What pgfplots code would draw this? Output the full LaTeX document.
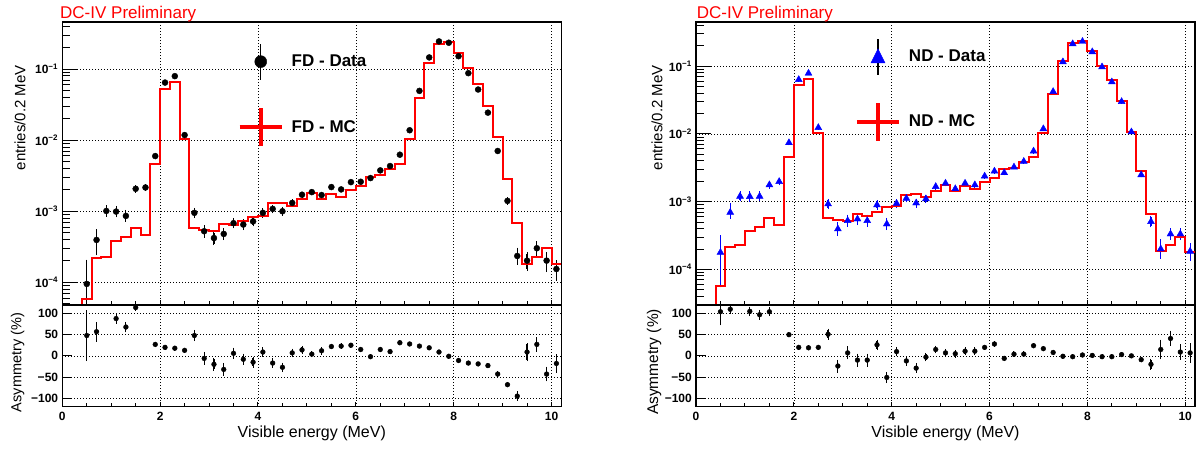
\documentclass[border=0pt]{standalone}
\usepackage{fontspec}
\setmainfont{Liberation Sans}
\usepackage{pgfplots}
\usepackage{pgfplotstable}
\pgfplotsset{compat=1.18}

\definecolor{mcred}{RGB}{255,0,0}
\definecolor{ndblue}{RGB}{0,0,255}

% MC histograms: left bin edge, content
\pgfplotstableread{
x y
0.0 4.8e-5
0.4 5.8e-5
0.6 2.18e-4
0.8 2.3e-4
1.0 3.79e-4
1.2 4.31e-4
1.4 5.78e-4
1.6 4.67e-4
1.8 4.57e-3
2.0 0.0533
2.2 0.0662
2.4 0.0103
2.6 5.8e-4
2.8 5.5e-4
3.0 5.2e-4
3.2 6.65e-4
3.4 6.4e-4
3.6 7.25e-4
3.8 8.25e-4
4.0 8.7e-4
4.2 1.31e-3
4.4 1.32e-3
4.6 1.2e-3
4.8 1.48e-3
5.0 1.82e-3
5.2 1.51e-3
5.4 1.74e-3
5.6 1.6e-3
5.8 2.0e-3
6.0 2.26e-3
6.2 3.03e-3
6.4 3.27e-3
6.6 3.97e-3
6.8 4.57e-3
7.0 0.0105
7.2 0.0394
7.4 0.123
7.6 0.227
7.8 0.238
8.0 0.170
8.2 0.104
8.4 0.0627
8.6 0.0307
8.8 0.0111
9.0 2.8e-3
9.2 6.8e-4
9.4 1.83e-4
9.6 2.3e-4
9.8 3.08e-4
10.0 1.83e-4
10.2 1.83e-4
}\fdmc

\pgfplotstableread{
x y
0.0 2.98e-5
0.4 5.7e-5
0.6 2.16e-4
0.8 2.29e-4
1.0 3.73e-4
1.2 4.28e-4
1.4 5.66e-4
1.6 4.57e-4
1.8 4.55e-3
2.0 0.0522
2.2 0.0656
2.4 0.0103
2.6 5.68e-4
2.8 5.37e-4
3.0 5.13e-4
3.2 6.58e-4
3.4 6.21e-4
3.6 7.11e-4
3.8 8.24e-4
4.0 8.53e-4
4.2 1.27e-3
4.4 1.29e-3
4.6 1.16e-3
4.8 1.46e-3
5.0 1.79e-3
5.2 1.43e-3
5.4 1.73e-3
5.6 1.55e-3
5.8 1.98e-3
6.0 2.22e-3
6.2 2.99e-3
6.4 3.13e-3
6.6 3.84e-3
6.8 4.5e-3
7.0 0.0103
7.2 0.0385
7.4 0.119
7.6 0.221
7.8 0.234
8.0 0.167
8.2 0.102
8.4 0.0619
8.6 0.0306
8.8 0.0107
9.0 2.79e-3
9.2 6.6e-4
9.4 1.85e-4
9.6 2.26e-4
9.8 3.04e-4
10.0 1.79e-4
10.2 1.79e-4
}\ndmc

% data: bin centre, content, error up, error down
\pgfplotstableread{
x y ep em
0.5 9.5e-5 1.05e-4 9.4e-5
0.7 3.95e-4 1.4e-4 1.45e-4
0.9 1.01e-3 1.5e-4 1.3e-4
1.1 9.9e-4 1.5e-4 1.3e-4
1.3 8.6e-4 1.4e-4 1.2e-4
1.5 2.07e-3 1.5e-4 1.5e-4
1.7 2.16e-3 1.5e-4 1.5e-4
1.9 5.98e-3 3e-4 3e-4
2.1 0.0647 1e-3 1e-3
2.3 0.0796 1e-3 1e-3
2.5 0.0118 4e-4 4e-4
2.7 9.5e-4 1.2e-4 1.1e-4
2.9 5.24e-4 9e-5 8e-5
3.1 4.2e-4 8e-5 7e-5
3.3 4.8e-4 8e-5 7e-5
3.5 6.8e-4 9e-5 8e-5
3.7 6.5e-4 9e-5 8e-5
3.9 7.2e-4 9e-5 8e-5
4.1 9.5e-4 1e-4 1e-4
4.3 1.08e-3 1e-4 1e-4
4.5 1.0e-3 1e-4 1e-4
4.7 1.31e-3 1e-4 1e-4
4.9 1.71e-3 1e-4 1e-4
5.1 1.86e-3 1e-4 1e-4
5.3 1.69e-3 1e-4 1e-4
5.5 2.19e-3 1e-4 1e-4
5.7 2.03e-3 1e-4 1e-4
5.9 2.57e-3 1e-4 1e-4
6.1 2.6e-3 1e-4 1e-4
6.3 2.93e-3 1e-4 1e-4
6.5 3.76e-3 1e-4 1e-4
6.7 4.33e-3 1e-4 1e-4
6.9 6.25e-3 2e-4 2e-4
7.1 0.0138 3e-4 3e-4
7.3 0.0494 1e-3 1e-3
7.5 0.146 2e-3 2e-3
7.7 0.245 3e-3 3e-3
7.9 0.235 3e-3 3e-3
8.1 0.152 2e-3 2e-3
8.3 0.0877 1e-3 1e-3
8.5 0.0516 1e-3 1e-3
8.7 0.0244 5e-4 5e-4
8.9 7.05e-3 2e-4 2e-4
9.1 1.40e-3 1e-4 1e-4
9.3 2.35e-4 6e-5 5e-5
9.5 2.02e-4 5e-5 5e-5
9.7 3.02e-4 6e-5 6e-5
9.9 2.02e-4 5e-5 5.6e-5
10.1 1.54e-4 4.2e-5 4.3e-5
}\fddata

\pgfplotstableread{
x y ep em
0.5 1.78e-4 1.26e-4 1.21e-4
0.7 6.95e-4 2.08e-4 1.15e-4
0.9 1.2e-3 1.6e-4 1.4e-4
1.1 1.19e-3 1.6e-4 1.4e-4
1.3 1.2e-3 1.6e-4 1.4e-4
1.5 1.77e-3 1.5e-4 1.5e-4
1.7 1.98e-3 1.5e-4 1.5e-4
1.9 7.41e-3 3e-4 3e-4
2.1 0.0634 1e-3 1e-3
2.3 0.0787 1e-3 1e-3
2.5 0.0124 4e-4 4e-4
2.7 9.25e-4 1.2e-4 1.1e-4
2.9 3.95e-4 8e-5 7e-5
3.1 5.24e-4 9e-5 8e-5
3.3 5.54e-4 9e-5 8e-5
3.5 5.24e-4 9e-5 8e-5
3.7 8.94e-4 1e-4 1e-4
3.9 4.68e-4 8e-5 7e-5
4.1 9.42e-4 1e-4 1e-4
4.3 1.12e-3 1e-4 1e-4
4.5 9.55e-4 1e-4 1e-4
4.7 1.1e-3 1e-4 1e-4
4.9 1.67e-3 1e-4 1e-4
5.1 1.87e-3 1e-4 1e-4
5.3 1.55e-3 1e-4 1e-4
5.5 1.87e-3 1e-4 1e-4
5.7 1.77e-3 1e-4 1e-4
5.9 2.38e-3 1e-4 1e-4
6.1 2.82e-3 1e-4 1e-4
6.3 2.67e-3 1e-4 1e-4
6.5 3.24e-3 1e-4 1e-4
6.7 3.93e-3 1e-4 1e-4
6.9 5.58e-3 2e-4 2e-4
7.1 0.0119 3e-4 3e-4
7.3 0.0422 1e-3 1e-3
7.5 0.116 2e-3 2e-3
7.7 0.214 3e-3 3e-3
7.9 0.232 3e-3 3e-3
8.1 0.163 2e-3 2e-3
8.3 0.0977 1e-3 1e-3
8.5 0.0586 1e-3 1e-3
8.7 0.030 5e-4 5e-4
8.9 0.0107 3e-4 3e-4
9.1 2.49e-3 1e-4 1e-4
9.3 5.07e-4 8e-5 7e-5
9.5 2.0e-4 6.6e-5 5e-5
9.7 3.33e-4 5.5e-5 5e-5
9.9 3.33e-4 5.5e-5 5e-5
10.1 1.85e-4 5e-5 4.5e-5
}\nddata

% asymmetry (%), error up, error down
\pgfplotstableread{
x y ep em
0.5 48 56 57
0.7 57 20 20
1.1 88 9 9
1.3 68 9 9
1.5 114 5 5
1.9 27 3 3
2.1 20 3 3
2.3 18 3 3
2.5 13 3 3
2.7 48 10 10
2.9 -6 12 12
3.1 -20 12 12
3.3 -32 12 12
3.5 6 10 10
3.7 -8 10 10
3.9 -15 10 10
4.1 9 8 8
4.3 -17 8 8
4.5 -27 8 8
4.7 7 7 7
4.9 14 6 6
5.1 4 4 4
5.3 12 6 6
5.5 22 3 3
5.7 23 3 3
5.9 25 3 3
6.1 15 3 3
6.3 -2 3 3
6.5 15 3 3
6.7 10 3 3
6.9 31 3 3
7.1 28 2 2
7.3 23 2 2
7.5 19 2 2
7.7 9 2 2
7.9 -1 2 2
8.1 -11 2 2
8.3 -17 2 2
8.5 -19 2 2
8.7 -23 2 2
8.9 -43 3 3
9.1 -68 3 3
9.3 -95 8 8
9.5 9 18 18
9.7 27 14 14
9.9 -43 14 14
10.1 -18 18 18
}\fdasym

\pgfplotstableread{
x y ep em
0.5 104 20 29
0.7 110 8 8
1.1 105 8 8
1.3 97 8 8
1.5 104 7 7
1.9 50 3 3
2.1 20 3 3
2.3 19 3 3
2.5 20 3 3
2.7 51 10 10
2.9 -24 12 12
3.1 7 12 12
3.3 -10 12 12
3.5 -10 12 12
3.7 26 9 9
3.9 -51 10 10
4.1 10 8 8
4.3 -12 8 8
4.5 -29 8 8
4.7 -3 7 7
4.9 15 6 6
5.1 7 6 6
5.3 5 6 6
5.5 11 6 6
5.7 11 6 6
5.9 20 3 3
6.1 28 3 3
6.3 -6 3 3
6.5 4 3 3
6.7 4 3 3
6.9 24 3 3
7.1 17 3 3
7.3 8 3 3
7.5 -1 2 2
7.7 -2 2 2
7.9 2 2 2
8.1 1 2 2
8.3 -2 2 2
8.5 -2 2 2
8.7 3 2 2
8.9 0 2 2
9.1 -9 3 3
9.3 -20 10 10
9.5 15 20 20
9.7 41 15 15
9.9 9 15 15
10.1 7 20 20
}\ndasym

\newcommand{\dec}[1]{\textbf{10}\textsuperscript{\textbf{−#1}}}

\pgfplotsset{
  dcframe/.style={
    scale only axis, width=499pt,
    xmin=0, xmax=10.2,
    axis line style={line width=1.2pt},
    tick align=inside, xtick pos=left, ytick pos=left,
    xtick={0,2,4,6,8,10}, minor x tick num=3,
    grid=major,
    major grid style={black, line width=0.6pt, dash pattern=on 0.7pt off 2.3pt},
    xtick style={black, line width=1pt, /pgfplots/major tick length=5pt, /pgfplots/minor tick length=4pt},
    tick label style={font=\fontsize{12}{12}\selectfont\bfseries},
    yticklabel style={inner sep=0pt, xshift=-4pt},
    xticklabel style={inner sep=0pt, yshift=-5pt},
  },
  dctop/.style={
    dcframe, height=283pt,
    xticklabels={},
    ytick={1e-4,1e-3,1e-2,1e-1},
    yticklabels={\dec{4},\dec{3},\dec{2},\dec{1}},
    minor ytick={3e-5,4e-5,5e-5,6e-5,7e-5,8e-5,9e-5,2e-4,3e-4,4e-4,5e-4,6e-4,7e-4,8e-4,9e-4,2e-3,3e-3,4e-3,5e-3,6e-3,7e-3,8e-3,9e-3,2e-2,3e-2,4e-2,5e-2,6e-2,7e-2,8e-2,9e-2,2e-1,3e-1,4e-1},
    ytick style={black, line width=1pt, /pgfplots/major tick length=15pt, /pgfplots/minor tick length=8pt},
    ylabel={entries/0.2 MeV},
    ylabel style={inner sep=0pt, anchor=east, font=\fontsize{15}{15}\selectfont},
    legend cell align=left,
  },
  dcbot/.style={
    dcframe, height=101.7pt, ymin=-120, ymax=120,
    ytick={-100,-50,0,50,100},
    yticklabels={\textbf{−100},\textbf{−50},\textbf{0},\textbf{50},\textbf{100}},
    xticklabels={\textbf{0},\textbf{2},\textbf{4},\textbf{6},\textbf{8},\textbf{10}},
    ytick style={black, line width=1pt, /pgfplots/major tick length=10pt},
    ylabel={Asymmetry (\%)},
    ylabel style={inner sep=0pt, anchor=center, font=\fontsize{14.5}{14.5}\selectfont},
    xlabel={Visible energy (MeV)},
    xlabel style={inner sep=0pt, anchor=center, at={(axis description cs:0.5,-0.259)}, font=\fontsize{16}{16}\selectfont},
  },
}

\begin{document}
\begin{tikzpicture}
\path[use as bounding box] (0pt,0pt) rectangle (1200pt,450pt);

% ---------------- FD ----------------
\begin{axis}[dctop, ymode=log, at={(62.3pt,145pt)}, anchor=south west, ymin=4.8e-5, ymax=0.46,
  ylabel style={at={(axis description cs:-0.0847,0.848)}},
  legend style={draw=none, fill=none, inner sep=0pt, outer sep=0pt,
    at={(axis description cs:0.3516,0.926)}, anchor=north west,
    row sep=26pt, column sep=6pt, font=\fontsize{17}{17}\selectfont\bfseries}]
\addplot[only marks, mark=*, mark size=3pt, black, forget plot,
  error bars/.cd, y dir=both, y explicit, error bar style={line width=1.2pt, black},
  error mark options={mark size=1.4pt, line width=1pt, black}]
  table[x=x, y=y, y error plus=ep, y error minus=em] {\fddata};
\addplot[const plot mark left, draw=mcred, line width=2pt, line join=miter, mark=none, forget plot]
  table[x=x, y=y] {\fdmc};
\addlegendimage{legend image code/.code={
  \draw[black, line width=1.4pt] (0pt,-18pt) -- (0pt,18pt);
  \fill[black] (0pt,0pt) circle (6pt);}}
\addlegendentry{FD - Data}
\addlegendimage{legend image code/.code={
  \draw[mcred, line width=4pt] (-21pt,0pt) -- (21pt,0pt);
  \draw[mcred, line width=4pt] (0pt,-19pt) -- (0pt,19pt);}}
\addlegendentry{FD - MC}
\end{axis}

\begin{axis}[dcbot, at={(62.3pt,43.3pt)}, anchor=south west,
  ylabel style={at={(axis description cs:-0.0897,0.435)}}]
\addplot[only marks, mark=*, mark size=2.4pt, black,
  error bars/.cd, y dir=both, y explicit, error bar style={line width=1.2pt, black},
  error mark options={mark size=1.4pt, line width=1pt, black}]
  table[x=x, y=y, y error plus=ep, y error minus=em] {\fdasym};
\end{axis}

\node[anchor=base west, inner sep=0pt, text=mcred, font=\fontsize{17}{17}\selectfont] at (60pt,431.7pt) {DC-IV Preliminary};

% ---------------- ND ----------------
\begin{axis}[dctop, ymode=log, at={(696pt,145pt)}, anchor=south west, ymin=2.98e-5, ymax=0.45,
  ylabel style={at={(axis description cs:-0.078,0.848)}},
  legend style={draw=none, fill=none, inner sep=0pt, outer sep=0pt,
    at={(axis description cs:0.3186,0.943)}, anchor=north west,
    row sep=25pt, column sep=6pt, font=\fontsize{17}{17}\selectfont\bfseries}]
\addplot[only marks, mark=triangle*, mark size=4pt, ndblue, forget plot,
  error bars/.cd, y dir=both, y explicit, error bar style={line width=1.2pt, ndblue},
  error mark options={mark size=1.4pt, line width=1pt, ndblue}]
  table[x=x, y=y, y error plus=ep, y error minus=em] {\nddata};
\addplot[const plot mark left, draw=mcred, line width=2pt, line join=miter, mark=none, forget plot]
  table[x=x, y=y] {\ndmc};
\addlegendimage{legend image code/.code={
  \draw[black, line width=1.4pt] (0pt,-18pt) -- (0pt,18pt);
  \fill[ndblue] (-7pt,-6pt) -- (7pt,-6pt) -- (0pt,8pt) -- cycle;}}
\addlegendentry{ND - Data}
\addlegendimage{legend image code/.code={
  \draw[mcred, line width=4pt] (-21pt,0pt) -- (21pt,0pt);
  \draw[mcred, line width=4pt] (0pt,-19pt) -- (0pt,19pt);}}
\addlegendentry{ND - MC}
\end{axis}

\begin{axis}[dcbot, at={(696pt,43.3pt)}, anchor=south west,
  ylabel style={at={(axis description cs:-0.084,0.44)}, font=\fontsize{15.5}{15.5}\selectfont}]
\addplot[only marks, mark=*, mark size=2.4pt, black,
  error bars/.cd, y dir=both, y explicit, error bar style={line width=1.2pt, black},
  error mark options={mark size=1.4pt, line width=1pt, black}]
  table[x=x, y=y, y error plus=ep, y error minus=em] {\ndasym};
\end{axis}

\node[anchor=base west, inner sep=0pt, text=mcred, font=\fontsize{17}{17}\selectfont] at (696.7pt,431.7pt) {DC-IV Preliminary};
\end{tikzpicture}
\end{document}
